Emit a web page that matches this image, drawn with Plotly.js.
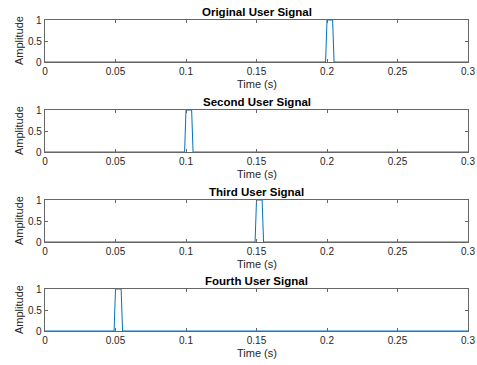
<!DOCTYPE html>
<html>
<head>
<meta charset="utf-8">
<script src="https://cdn.plot.ly/plotly-3.0.1.min.js"></script>
<style>html,body{margin:0;padding:0;background:#fff;}#chart{width:477px;height:365px;}</style>
</head>
<body>
<div id="chart"></div>
<script>
// Data (time in s, amplitude)
const titles = ["Original User Signal", "Second User Signal", "Third User Signal", "Fourth User Signal"];
const t1 = [0, 0.199, 0.200, 0.204, 0.205, 0.3];
const y1 = [0, 0, 1, 1, 0, 0];
const t2 = [0, 0.099, 0.100, 0.104, 0.105, 0.3];
const y2 = [0, 0, 1, 1, 0, 0];
const t3 = [0, 0.149, 0.150, 0.154, 0.155, 0.3];
const y3 = [0, 0, 1, 1, 0, 0];
const t4 = [0, 0.049, 0.050, 0.054, 0.055, 0.3];
const y4 = [0, 0, 1, 1, 0, 0];
const xTicks = [0, 0.05, 0.1, 0.15, 0.2, 0.25, 0.3];
const yTicks = [0, 0.5, 1];

const W = 477, H = 365;
const left = 45, right = 468;
const tops = [20, 110, 200, 289];
const ph = 42;
const series = [[t1, y1], [t2, y2], [t3, y3], [t4, y4]];
const font = "Liberation Sans, Arial, Helvetica, sans-serif";
const axisColor = "#666666";
const clear = "rgba(0,0,0,0)";

const data = [];
const layout = {
  width: W, height: H,
  margin: {l: 0, r: 0, t: 0, b: 0},
  paper_bgcolor: "#fff", plot_bgcolor: "#fff",
  showlegend: false,
  font: {family: font, size: 10, color: "#262626"},
  annotations: []
};
const tickAnns = [];
series.forEach((s, i) => {
  const n = i + 1;
  const sfx = n === 1 ? "" : String(n);
  data.push({
    x: s[0], y: s[1], type: "scatter", mode: "lines",
    line: {color: "#0072BD", width: 1},
    xaxis: "x" + sfx, yaxis: "y" + sfx, cliponaxis: false, hoverinfo: "skip"
  });
  const y0 = 1 - (tops[i] + ph) / H, y1d = 1 - tops[i] / H;
  layout["xaxis" + sfx] = {
    domain: [left / W, right / W], range: [0, 0.3], anchor: "y" + sfx,
    tickvals: xTicks, ticktext: xTicks.map(String),
    ticks: "inside", ticklen: 3, tickcolor: axisColor, tickwidth: 1,
    showline: true, linecolor: axisColor, linewidth: 1, mirror: "ticks",
    showgrid: false, zeroline: false,
    tickfont: {family: font, size: 10, color: "#262626"}
  };
  layout["yaxis" + sfx] = {
    domain: [y0, y1d], range: [0, 1], anchor: "x" + sfx,
    tickmode: "array", tickvals: yTicks,
    ticks: "inside", ticklen: 3, tickcolor: axisColor, tickwidth: 1,
    showline: true, linecolor: axisColor, linewidth: 1, mirror: "ticks",
    showgrid: false, zeroline: false, showticklabels: false
  };
  layout.annotations.push({
    text: "<b>" + titles[i] + "</b>", xref: "paper", yref: "paper",
    x: (left + right) / 2 / W, y: 1 - (tops[i] - 8) / H,
    xanchor: "center", yanchor: "middle", showarrow: false, bgcolor: clear,
    font: {family: font, size: 11.5, color: "#000"}
  });
  layout.annotations.push({
    text: "Time (s)", xref: "paper", yref: "paper",
    x: (left + right) / 2 / W, y: 1 - (tops[i] + ph + 22) / H,
    xanchor: "center", yanchor: "middle", showarrow: false, bgcolor: clear,
    font: {family: font, size: 11, color: "#262626"}
  });
  layout.annotations.push({
    text: "Amplitude", xref: "paper", yref: "paper",
    x: 19 / W, y: 1 - (tops[i] + ph / 2) / H, textangle: -90,
    xanchor: "center", yanchor: "middle", showarrow: false, bgcolor: clear,
    borderpad: 0, borderwidth: 0,
    font: {family: font, size: 11, color: "#262626"}
  });
  // y tick labels placed on the axis scale
  yTicks.forEach(v => {
    tickAnns.push({
      text: String(v), xref: "paper", yref: "y" + sfx,
      x: 42 / W, y: v, xanchor: "right", yanchor: "middle",
      showarrow: false, borderpad: 0, borderwidth: 0, bgcolor: clear,
      font: {family: font, size: 10, color: "#262626"}
    });
  });
});
layout.annotations = layout.annotations.concat(tickAnns);
Plotly.newPlot("chart", data, layout, {staticPlot: true, displayModeBar: false});
</script>
</body>
</html>
